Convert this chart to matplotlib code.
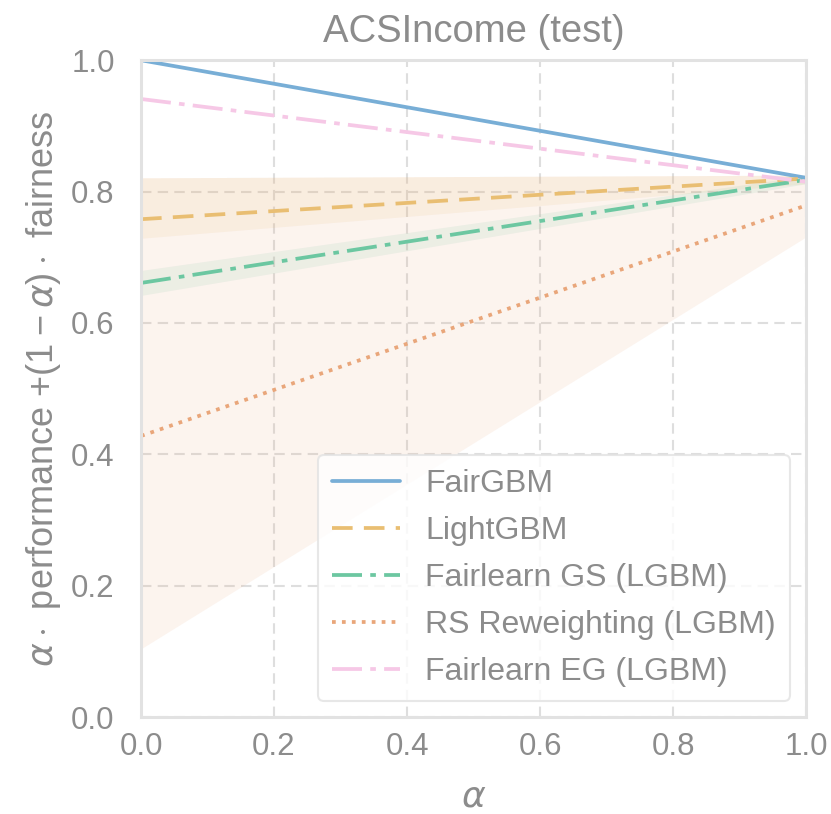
import matplotlib.pyplot as plt
import seaborn as sns

sns.set_style("whitegrid")
plt.rcParams["font.family"] = ["Liberation Sans", "DejaVu Sans"]
plt.rcParams["mathtext.fontset"] = "custom"
plt.rcParams["mathtext.rm"] = "Liberation Sans"
plt.rcParams["mathtext.it"] = "DejaVu Sans:italic"

models = ["FairGBM", "LightGBM", "Fairlearn GS (LGBM)",
          "RS Reweighting (LGBM)", "Fairlearn EG (LGBM)"]
alpha_ends = [0.0, 1.0]
# value at alpha=0 (fairness) and alpha=1 (performance)
fairness = [1.0, 0.758, 0.661, 0.428, 0.941]
performance = [0.821, 0.82, 0.818, 0.779, 0.815]
# band bounds at alpha=0 and alpha=1
band_low = [None, [0.729, 0.812], [0.642, 0.812], [0.104, 0.731], None]
band_high = [None, [0.821, 0.825], [0.680, 0.824], [0.821, 0.825], None]

colors = ["#78aed6", "#e9be72", "#6cc7a1", "#e9a67a", "#f6c8e6"]
styles = ["-", (0, (5.5, 3)), (0, (8, 2.2, 1.5, 2.2)), ":",
          (0, (8, 2.2, 1.5, 2.2))]

txt = "#8c8c8c"
fig = plt.figure(figsize=(8.31, 8.14), dpi=100)
ax = fig.add_axes([0.1697, 0.119, 0.8003, 0.807])

for i, m in enumerate(models):
    if band_low[i] is not None:
        ax.fill_between(alpha_ends, band_low[i], band_high[i],
                        color=colors[i], alpha=0.12, lw=0)
for i, m in enumerate(models):
    ax.plot(alpha_ends, [fairness[i], performance[i]], ls=styles[i],
            color=colors[i], lw=2.7, label=m)

ax.set_xlim(0, 1)
ax.set_ylim(0, 1)
ax.set_xticks([0, 0.2, 0.4, 0.6, 0.8, 1.0])
ax.set_yticks([0, 0.2, 0.4, 0.6, 0.8, 1.0])
ax.grid(True, ls=(0, (5, 3)), color="#dedede", lw=1.5)
for s in ax.spines.values():
    s.set_color("#e2e2e2")
    s.set_linewidth(2.2)
ax.tick_params(colors=txt, labelsize=22.5, length=0)
ax.tick_params(axis="y", pad=19)
ax.tick_params(axis="x", pad=11)

ax.set_title("ACSIncome (test)", color=txt, fontsize=27.5, pad=13)
ax.set_xlabel(r"$\alpha$", color=txt, fontsize=26, labelpad=12)
ax.set_ylabel(r"$\alpha \cdot$ performance $+(1 - \alpha) \cdot$ fairness",
              color=txt, fontsize=26, labelpad=6)

leg = ax.legend(loc="lower right", fontsize=23, handlelength=2.1,
                handletextpad=0.8, labelspacing=0.53, frameon=True,
                borderpad=0.45)
for t in leg.get_texts():
    t.set_color(txt)
leg.get_frame().set_edgecolor("#e2e2e2")
leg.get_frame().set_linewidth(1.5)

fig.savefig("out.png", dpi=100)
